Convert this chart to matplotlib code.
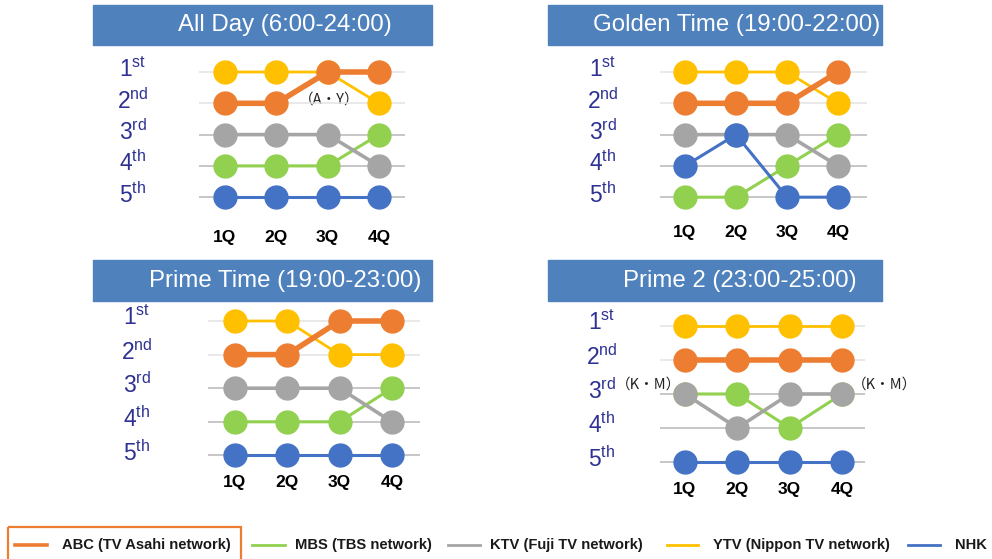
import matplotlib
matplotlib.use('Agg')
import matplotlib.pyplot as plt
from matplotlib.lines import Line2D
from matplotlib.patches import Rectangle

plt.rcParams['font.family'] = ['Liberation Sans', 'DejaVu Sans']

# data
quarters = ['1Q', '2Q', '3Q', '4Q']
rank_names = ['1', '2', '3', '4', '5']
rank_suffix = ['st', 'nd', 'rd', 'th', 'th']
panel_titles = ['All Day (6:00-24:00)', 'Golden Time (19:00-22:00)',
                'Prime Time (19:00-23:00)', 'Prime 2 (23:00-25:00)']
networks = ['ABC (TV Asahi network)', 'MBS (TBS network)', 'KTV (Fuji TV network)',
            'YTV (Nippon TV network)', 'NHK']
colors = ['#ED7D31', '#92D050', '#A5A5A5', '#FFC000', '#4472C4']

# rank per quarter, one row per panel
abc_ranks = [[2, 2, 1, 1], [2, 2, 2, 1], [2, 2, 1, 1], [2, 2, 2, 2]]
mbs_ranks = [[4, 4, 4, 3], [5, 5, 4, 3], [4, 4, 4, 3], [3, 3, 4, 3]]
ktv_ranks = [[3, 3, 3, 4], [3, 3, 3, 4], [3, 3, 3, 4], [3, 4, 3, 3]]
ytv_ranks = [[1, 1, 1, 2], [1, 1, 1, 2], [1, 1, 2, 2], [1, 1, 1, 1]]
nhk_ranks = [[5, 5, 5, 5], [4, 3, 5, 5], [5, 5, 5, 5], [5, 5, 5, 5]]
all_ranks = [abc_ranks, mbs_ranks, ktv_ranks, ytv_ranks, nhk_ranks]

# tie notes: (panel, text)
tie_notes = [(0, '（A・Y）'), (3, '（K・M）'), (3, '（K・M）')]

# styling per network
line_w = [4.0, 2.2, 2.6, 2.0, 2.2]
z_ord = [6, 3, 4, 5, 5.5]

W, H = 992, 559
fig = plt.figure(figsize=(W / 100, H / 100), dpi=100)

# layout in pixels: x0, dx, y0, dy, grid left, grid right, ylabel x, xlabel y, banner, title center x, title y
layout = [
    (225, 51.3, 72, 31.3, 199, 405, 133, 238, (93, 5, 432, 45), 285, 25),
    (685, 51.0, 72, 31.3, 660, 867, 603, 233, (548, 5, 882, 45), 737, 25),
    (235, 52.3, 321, 33.6, 208, 420, 137, 483, (93, 260, 432, 301), 285, 281),
    (685, 52.3, 326, 34.0, 660, 865, 602, 490, (548, 260, 882, 301), 740, 281),
]
note_pos = [(329, 100), (648, 385), (884, 385)]

bg = fig.add_axes([0, 0, 1, 1])
bg.set_xlim(0, W)
bg.set_ylim(H, 0)
bg.axis('off')

for p, (x0, dx, y0, dy, gl, gr, ylx, xly, ban, tcx, tcy) in enumerate(layout):
    # banner
    bx0, by0, bx1, by1 = ban
    bg.add_patch(Rectangle((bx0, by0), bx1 - bx0, by1 - by0, color='#4F81BD', zorder=1))
    bg.text(tcx, tcy, panel_titles[p], color='white', fontsize=17.3,
            ha='center', va='center', zorder=2)

    top = y0 - dy / 2
    bot = y0 + 4 * dy + dy / 2
    ax = fig.add_axes([gl / W, 1 - bot / H, (gr - gl) / W, (bot - top) / H])
    ax.set_xlim((gl - x0) / dx, (gr - x0) / dx)
    ax.set_ylim(5.5, 0.5)
    ax.axis('off')
    ax.patch.set_alpha(0)

    for r in range(1, 6):
        ax.axhline(r, color='#e3e3e3' if r <= 2 else '#b8b8b8', lw=1.1, zorder=1)

    xs = list(range(len(quarters)))
    for i in range(len(networks)):
        ax.plot(xs, all_ranks[i][p], color=colors[i], lw=line_w[i], marker='o',
                markersize=16.5, zorder=z_ord[i], solid_capstyle='round')

    # rank labels
    for r in range(5):
        ax.text((ylx - x0) / dx, r + 1 - 0.08,
                r'$\mathregular{' + rank_names[r] + '^{' + rank_suffix[r] + '}}$',
                color='#2E3192', fontsize=16.5, ha='center', va='center', clip_on=False)
    # quarter labels
    for q in range(len(quarters)):
        ax.text(q, 5 + (xly - (y0 + 4 * dy)) / dy, quarters[q], fontsize=12.5,
                fontweight='bold', ha='center', va='center', clip_on=False)

for (p, txt), (nx, ny) in zip(tie_notes, note_pos):
    bg.text(nx, ny, txt, fontsize=10.5, ha='center', va='center', color='#222222',
            family=['Noto Sans CJK JP', 'DejaVu Sans'], zorder=10)

# legend
leg_line = [(15, 47), (252, 285), (448, 480), (667, 698), (908, 940)]
leg_text_x = [62, 295, 490, 713, 955]
leg_y = 545
for i in range(len(networks)):
    bg.add_line(Line2D(leg_line[i], [leg_y, leg_y], color=colors[i],
                       lw=2.6 if i == 0 else 2.0))
    bg.text(leg_text_x[i], leg_y, networks[i], fontsize=10.6, fontweight='bold',
            ha='left', va='center', color='#1a1a1a')
bg.add_patch(Rectangle((8, 527), 233, 40, fill=False, edgecolor='#ED7D31', lw=1.6, zorder=3))

fig.savefig('out.png', dpi=100)
